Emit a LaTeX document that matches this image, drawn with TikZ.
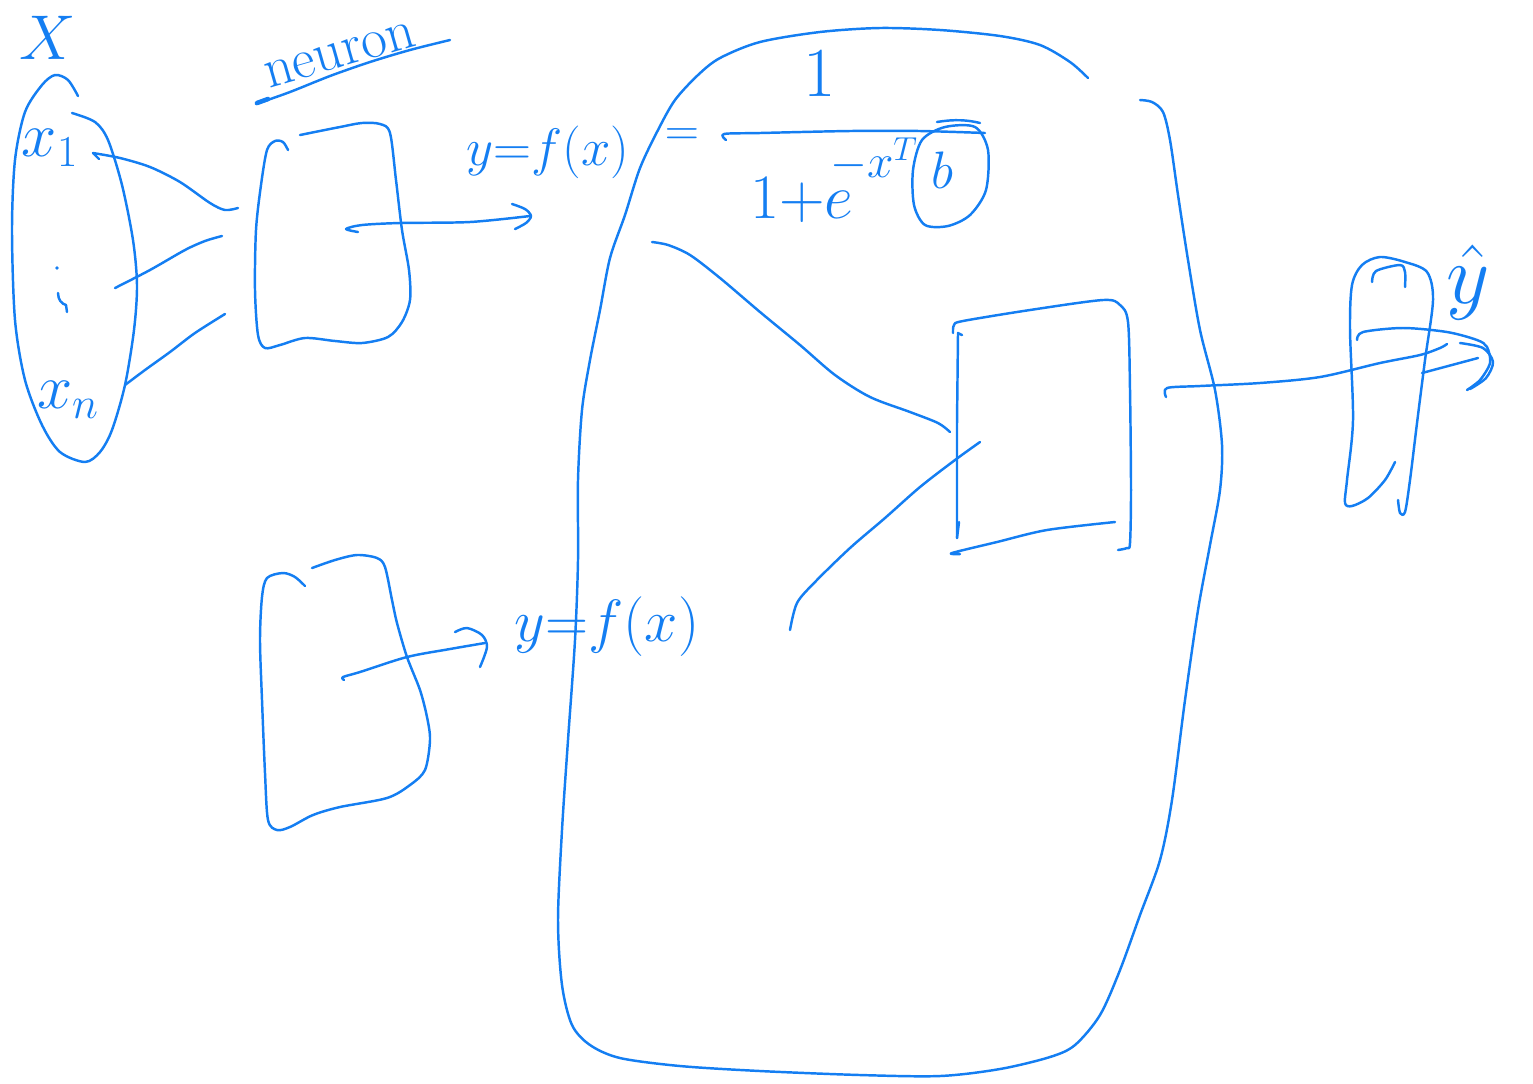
\RequirePackage{fix-cm}
\documentclass[tikz,border=0pt]{standalone}
\usepackage{amsmath}
\definecolor{ink}{RGB}{20,126,242}
\begin{document}
\begin{tikzpicture}[x=0.02cm,y=-0.02cm,
  pen/.style={draw=ink, line width=1.4pt, line cap=round, line join=round},
  hand/.style={text=ink, inner sep=0pt, font=\fontsize{30}{36}\selectfont},
  handbig/.style={text=ink, inner sep=0pt, font=\fontsize{36}{42}\selectfont},
  handsmall/.style={text=ink, inner sep=0pt, font=\fontsize{27}{32}\selectfont}]
\useasboundingbox (0,0) rectangle (1533,1083);

% ---- input set X = {x_1, ..., x_n}
\draw[pen] plot[smooth] coordinates {(78,96) (68,80) (55,75) (42,85) (25,112) (15,160) (12,230) (15,320) (25,380) (42,425) (60,452) (85,462) (100,452) (112,430) (125,385) (134,330) (137,285) (133,240) (122,185) (108,140) (95,122) (72,113)};
\node[handbig] (X) at (48,38) {$X$};
\node[handbig] (x1) at (50,148) {$x_1$};
\node[handbig] (xn) at (68,400) {$x_n$};
\fill[ink] (57,268) circle (1.8);
\draw[pen] (58,293) .. controls (58,300) and (62,304) .. (66,305) -- (67,312);

% ---- connections from the inputs to the neuron
\draw[pen] plot[smooth] coordinates {(238,208) (225,210) (210,203) (180,182) (150,167) (120,158) (93,153)};
\draw[pen] (93,153) -- (99,159);
\draw[pen] plot[smooth] coordinates {(222,236) (205,241) (185,250) (150,270) (115,288)};
\draw[pen] plot[smooth] coordinates {(225,314) (195,333) (170,352) (145,370) (125,385)};

% ---- label "neuron"
\node[text=ink, inner sep=0pt, font=\fontsize{32}{38}\selectfont, rotate=16] (lbl) at (340,55) {neuron};
\draw[pen] plot[smooth] coordinates {(256,104) (290,92) (330,76) (370,62) (410,50) (450,40)};
\draw[pen, line width=2.6pt] (257,103) -- (268,99);

% ---- neuron 1
\draw[pen] plot[smooth] coordinates {(300,135) (340,127) (362,123) (380,124) (390,133) (396,180) (402,230) (409,270) (410,300) (402,322) (388,337) (362,343) (335,341) (305,338) (280,345) (265,348) (258,335) (255,290) (256,230) (261,185) (267,150) (275,141) (283,142) (288,150)};
\draw[pen] plot[smooth] coordinates {(358,232) (346,229) (362,225) (400,223) (470,222) (530,216)};
\draw[pen] plot[smooth] coordinates {(512,204) (525,209) (531,216) (526,223) (515,229)};
\node[hand] (f1) at (548,152) {$y{=}f(x)$};

% ---- neuron 2
\draw[pen] plot[smooth] coordinates {(312,568) (335,560) (357,555) (377,558) (385,567) (392,600) (397,623) (407,657) (420,690) (427,717) (430,740) (425,770) (410,785) (387,798) (340,807) (313,815) (290,827) (277,830) (268,820) (265,773) (262,700) (260,640) (262,597) (267,578) (283,573) (295,577) (305,586)};
\draw[pen] plot[smooth] coordinates {(344,680) (343,677) (360,672) (407,657) (450,649) (485,643)};
\draw[pen] plot[smooth] coordinates {(455,632) (467,628) (482,635) (487,647) (480,667)};
\node[text=ink, inner sep=0pt, font=\fontsize{34}{40}\selectfont] (f2) at (607,627) {$y{=}f(x)$};

% ---- enlarged view of the neuron
\draw[pen] plot[smooth] coordinates {(1088,78) (1070,62) (1040,45) (1000,36) (940,30) (880,28) (820,32) (760,42) (720,58) (698,75) (675,100) (658,130) (640,168) (625,215) (610,258) (600,310) (590,360) (582,410) (578,480) (578,560) (575,640) (568,740) (562,830) (558,920) (562,985) (572,1025) (590,1045) (620,1058) (680,1066) (760,1071) (860,1075) (940,1076) (1000,1069) (1050,1057) (1075,1045) (1100,1015) (1120,970) (1140,915) (1160,860) (1172,800) (1185,700) (1198,610) (1210,545) (1220,490) (1222,445) (1215,390) (1200,330) (1188,260) (1178,195) (1170,140) (1163,112) (1152,102) (1140,100)};

% sigmoid: 1 / (1 + e^{-x^T b})
\node[handsmall] (eq) at (682,137) {$=$};
\node[text=ink, inner sep=0pt, font=\fontsize{40}{46}\selectfont] (num) at (820,74) {$1$};
\draw[pen] plot[smooth] coordinates {(726,140) (724,134) (760,133) (850,131) (920,131) (985,133)};
\node[handbig] (den) at (802,200) {$1{+}e$};
\node[handsmall] (ex) at (874,160) {$-x^{T}$};
\node[hand] (b) at (942,170) {$b$};
\draw[pen] plot[smooth cycle] coordinates {(945,127) (975,127) (988,150) (986,190) (970,215) (948,226) (925,225) (914,205) (913,170) (922,140)};
\draw[pen] (937,122) .. controls (955,119) and (968,120) .. (980,123);

% inputs into the neuron body
\draw[pen] plot[smooth] coordinates {(652,242) (668,245) (690,255) (720,278) (760,312) (800,345) (835,375) (870,397) (910,412) (938,423) (950,432)};
\draw[pen] plot[smooth] coordinates {(980,442) (955,460) (920,487) (885,518) (850,548) (815,582) (797,603) (790,630)};

% neuron body
\draw[pen] plot[smooth] coordinates {(953,333) (954,325) (963,321) (1030,310) (1103,300) (1120,305) (1128,322) (1130,390) (1131,490) (1130,543) (1127,548) (1118,550)};
\draw[pen] (962,335) -- (958,333) -- (957,423) -- (957,538);
\draw[pen] (957,538) -- (959,522);
\draw[pen] plot[smooth] coordinates {(960,554) (952,553) (997,542) (1047,530) (1115,522)};

% output
\draw[pen] plot[smooth] coordinates {(1166,397) (1167,388) (1200,386) (1260,383) (1320,377) (1380,363) (1420,355) (1440,348) (1447,344)};
\draw[pen] (1422,373) -- (1478,358);
\draw[pen] plot[smooth] coordinates {(1357,340) (1363,332) (1403,328) (1447,332) (1477,340) (1487,347) (1490,363) (1480,380) (1467,390)};
\draw[pen] plot[smooth] coordinates {(1460,343) (1483,348) (1493,362) (1486,378) (1470,389)};
\draw[pen] plot[smooth] coordinates {(1395,462) (1385,480) (1368,498) (1352,506) (1345,503) (1347,480) (1353,420) (1350,330) (1352,285) (1362,265) (1380,257) (1405,262) (1427,272) (1433,300) (1425,360) (1417,423) (1410,480) (1405,512) (1400,513) (1398,500)};
\draw[pen] plot[smooth] coordinates {(1372,282) (1376,271) (1400,265) (1405,272) (1405,287)};
\node[text=ink, inner sep=0pt, font=\fontsize{48}{54}\selectfont] (yhat) at (1468,282) {$\hat{y}$};
\end{tikzpicture}
\end{document}
